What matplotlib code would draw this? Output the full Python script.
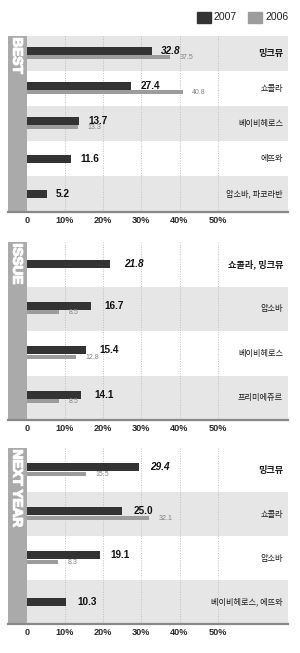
import matplotlib
matplotlib.use("Agg")
import matplotlib.pyplot as plt
from matplotlib import font_manager
from matplotlib import patheffects
from matplotlib.patches import Rectangle

# survey data, % of answers (2007 vs 2006)
best_labels = ['밍크뮤', '쇼콜라', '베이비헤로스', '에뜨와', '압소바, 파코라반']
best_2007 = [32.8, 27.4, 13.7, 11.6, 5.2]
best_2006 = [37.5, 40.8, 13.3, None, None]

issue_labels = ['쇼콜라, 밍크뮤', '압소바', '베이비헤로스', '프리미에쥬르']
issue_2007 = [21.8, 16.7, 15.4, 14.1]
issue_2006 = [None, 8.5, 12.8, 8.5]

next_labels = ['밍크뮤', '쇼콜라', '압소바', '베이비헤로스, 에뜨와']
next_2007 = [29.4, 25.0, 19.1, 10.3]
next_2006 = [15.5, 32.1, 8.3, None]

ticks = [0, 10, 20, 30, 40, 50]
tick_labels = ['0', '10%', '20%', '30%', '40%', '50%']

DARK = '#333333'
GRAY = '#9c9c9c'
SHADE = '#e6e6e6'
SIDE = '#aaaaaa'
KR = 'Noto Sans CJK KR'


def has_font(name):
    try:
        font_manager.findfont(name, fallback_to_default=False)
        return True
    except ValueError:
        return False


narrow_ok = has_font('Liberation Sans Narrow')
NARROW = 'Liberation Sans Narrow' if narrow_ok else 'Liberation Sans'
side_size = 11.5 if narrow_ok else 9.8
legend_size = 8.6 if narrow_ok else 7.6

W, H = 300, 653
fig = plt.figure(figsize=(W / 100, H / 100), dpi=100)
fig.patch.set_facecolor('white')


def draw_panel(top_px, bottom_px, title, labels, v2007, v2006, shade_first, val_gap):
    ax = fig.add_axes([8 / W, 1 - bottom_px / H, 280 / W, (bottom_px - top_px) / H])
    n = len(labels)
    row_px = (bottom_px - top_px) / n
    xmin, xmax = -4.9, 68.4
    ax.set_xlim(xmin, xmax)
    ax.set_ylim(n - 0.5, -0.5)

    # row shading, side bar and dotted grid
    for i in range(n):
        if (i % 2 == 0) == shade_first:
            ax.add_patch(Rectangle((0, i - 0.5), xmax, 1, color=SHADE, lw=0, zorder=0))
    ax.add_patch(Rectangle((xmin, -0.5), -xmin, n, color=SIDE, lw=0, zorder=1))
    for t in ticks[1:]:
        ax.axvline(t, color='#bdbdbd', lw=0.7, ls=(0, (1, 1.5)), zorder=1)

    dark_h = 8 / row_px
    gray_h = 4 / row_px
    for i in range(n):
        has_old = v2006[i] is not None
        yd = i - 3 / row_px if has_old else i
        ax.barh(yd, v2007[i], height=dark_h, color=DARK, zorder=3)
        top = i == 0
        ax.annotate(f'{v2007[i]:.1f}', (v2007[i], yd), xytext=(val_gap * 0.72, 0),
                    textcoords='offset points', ha='left', va='center',
                    fontsize=7.2, fontweight='bold', style='italic' if top else 'normal',
                    family='Liberation Sans', color='#111111', zorder=4)
        if has_old:
            yg = i + 3.5 / row_px
            ax.barh(yg, v2006[i], height=gray_h, color=GRAY, zorder=3)
            ax.annotate(f'{v2006[i]:.1f}', (v2006[i], yg), xytext=(7, -0.5),
                        textcoords='offset points', ha='left', va='center',
                        fontsize=5, family='Liberation Sans', color='#808080', zorder=4)
        ax.annotate(labels[i], (1, i), xycoords=('axes fraction', 'data'),
                    xytext=(-3.6, 0), textcoords='offset points', ha='right', va='center',
                    fontsize=6.6 if top else 5.9, fontweight='bold' if top else 'normal',
                    family=[KR, 'DejaVu Sans'], color='#1a1a1a')

    ax.text(xmin / 2, -0.5 + 1.5 / row_px, title, rotation=270, ha='center', va='top',
            fontsize=side_size, fontweight='bold', family=NARROW, color='white', zorder=5,
            path_effects=[patheffects.withStroke(linewidth=0.9, foreground='white')])

    for s in ['top', 'left', 'right']:
        ax.spines[s].set_visible(False)
    ax.spines['bottom'].set_color('#888888')
    ax.spines['bottom'].set_linewidth(1.6)
    ax.spines['bottom'].set_zorder(6)
    ax.set_yticks([])
    ax.set_xticks(ticks)
    ax.set_xticklabels(tick_labels, fontsize=6.6, fontweight='bold',
                       family='Liberation Sans', color='#2a2a2a')
    ax.tick_params(axis='x', length=0, pad=3.2)
    ax.set_facecolor('white')
    return ax


draw_panel(36, 211.5, 'BEST', best_labels, best_2007, best_2006, True, 9)
draw_panel(242, 420, 'ISSUE', issue_labels, issue_2007, issue_2006, False, 14)
draw_panel(448, 624, 'NEXT YEAR', next_labels, next_2007, next_2006, False, 11)

# legend drawn by hand at the top right
fig.patches.append(Rectangle((197 / W, 1 - 23.3 / H), 14 / W, 11.6 / H,
                             color=DARK, transform=fig.transFigure))
fig.text(213 / W, 1 - 17.5 / H, '2007', ha='left', va='center', fontsize=legend_size,
         family=NARROW, color='#222222')
fig.patches.append(Rectangle((248.3 / W, 1 - 23.3 / H), 13.4 / W, 11.6 / H,
                             color=GRAY, transform=fig.transFigure))
fig.text(265 / W, 1 - 17.5 / H, '2006', ha='left', va='center', fontsize=legend_size,
         family=NARROW, color='#222222')

fig.savefig('out.png', dpi=100, facecolor='white')
